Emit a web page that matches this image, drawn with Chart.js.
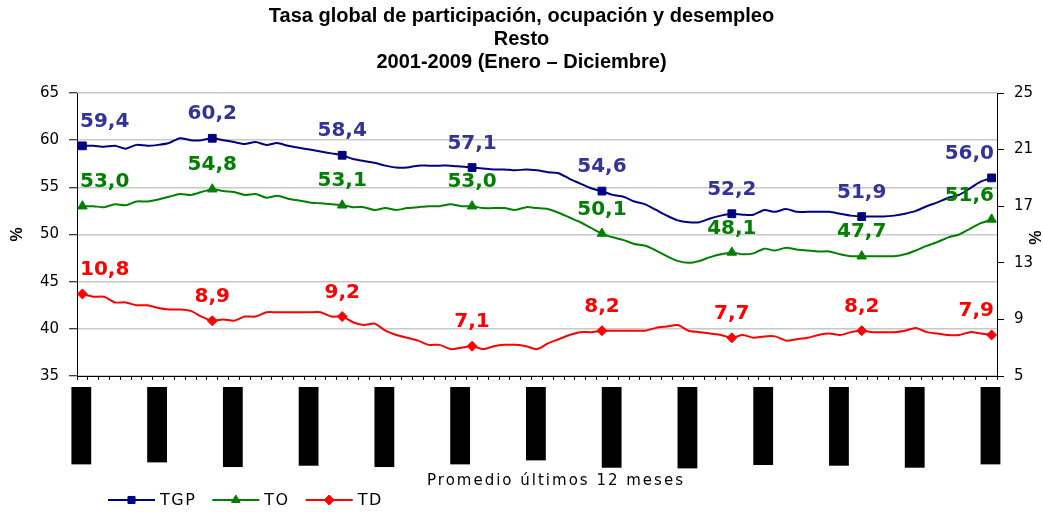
<!DOCTYPE html>
<html>
<head>
<meta charset="utf-8">
<title>Tasa global de participación, ocupación y desempleo - Resto</title>
<script src="https://cdn.jsdelivr.net/npm/chart.js@4.4.1/dist/chart.umd.min.js"></script>
<style>
  html, body { margin: 0; padding: 0; background: #fff; }
  #chart { display: block; }
</style>
</head>
<body>
<canvas id="chart" width="1043" height="512"></canvas>
<script>
// Rolling 12-month windows (Ene01-Dic01 ... Ene08-Dic08)
const monthNames = ['Ene', 'Feb', 'Mar', 'Abr', 'May', 'Jun', 'Jul', 'Ago', 'Sep', 'Oct', 'Nov', 'Dic'];
const windowLabels = [];
for (let i = 0; i < 85; i++) {
  const start = i, end = i + 11;
  const y1 = String(1 + Math.floor(start / 12)).padStart(2, '0');
  const y2 = String(1 + Math.floor(end / 12)).padStart(2, '0');
  windowLabels.push(monthNames[start % 12] + y1 + '-' + monthNames[end % 12] + y2);
}

// Tasa global de participación (left axis)
const tgpValues = [
  59.4, 59.4, 59.3, 59.4, 59.1, 59.5, 59.4, 59.5, 59.7, 60.2,
  60.0, 60.0, 60.2, 60.0, 59.8, 59.6, 59.8, 59.5, 59.7, 59.4,
  59.2, 59.0, 58.8, 58.6, 58.4, 58.0, 57.8, 57.6, 57.3, 57.1,
  57.1, 57.3, 57.3, 57.3, 57.3, 57.2, 57.1, 57.0, 56.9, 56.9,
  56.8, 56.9, 56.8, 56.6, 56.5, 55.9, 55.4, 54.9, 54.6, 54.2,
  54.0, 53.5, 53.2, 52.6, 52.0, 51.5, 51.3, 51.3, 51.7, 52.0,
  52.2, 52.1, 52.1, 52.6, 52.4, 52.7, 52.4, 52.4, 52.4, 52.4,
  52.2, 52.0, 51.9, 51.9, 51.9, 52.0, 52.2, 52.5, 53.0, 53.4,
  53.9, 54.2, 54.9, 55.6, 56.0
];

// Tasa de ocupación (left axis)
const toValues = [
  53.0, 53.0, 52.9, 53.2, 53.1, 53.5, 53.5, 53.7, 54.0, 54.3,
  54.2, 54.5, 54.8, 54.6, 54.5, 54.2, 54.3, 53.9, 54.1, 53.8,
  53.6, 53.4, 53.3, 53.2, 53.1, 52.9, 52.9, 52.6, 52.8, 52.6,
  52.8, 52.9, 53.0, 53.0, 53.2, 53.0, 53.0, 52.8, 52.8, 52.8,
  52.6, 52.9, 52.8, 52.7, 52.3, 51.8, 51.3, 50.7, 50.1, 49.7,
  49.4, 49.0, 48.8, 48.3, 47.7, 47.2, 47.0, 47.2, 47.6, 47.9,
  48.1, 47.9, 48.0, 48.5, 48.3, 48.6, 48.4, 48.3, 48.2, 48.2,
  47.9, 47.7, 47.7, 47.7, 47.7, 47.7, 47.9, 48.3, 48.8, 49.2,
  49.7, 50.0, 50.6, 51.2, 51.6
];

// Tasa de desempleo (right axis)
const tdValues = [
  10.8, 10.6, 10.6, 10.2, 10.2, 10.0, 10.0, 9.8, 9.7, 9.7,
  9.6, 9.2, 8.9, 9.0, 8.9, 9.2, 9.2, 9.5, 9.5, 9.5,
  9.5, 9.5, 9.5, 9.2, 9.2, 8.8, 8.6, 8.7, 8.2, 7.9,
  7.7, 7.5, 7.2, 7.2, 6.9, 7.0, 7.1, 6.9, 7.1, 7.2,
  7.2, 7.1, 6.9, 7.3, 7.6, 7.9, 8.1, 8.1, 8.2, 8.2,
  8.2, 8.2, 8.2, 8.4, 8.5, 8.6, 8.2, 8.1, 8.0, 7.9,
  7.7, 7.9, 7.7, 7.8, 7.8, 7.5, 7.6, 7.7, 7.9, 8.0,
  7.9, 8.1, 8.2, 8.1, 8.1, 8.1, 8.2, 8.4, 8.1, 8.0,
  7.9, 7.9, 8.1, 8.0, 7.9
];

const leftTicks = [35, 40, 45, 50, 55, 60, 65];
const rightTicks = [5, 9, 13, 17, 21, 25];
const titleLines = ['Tasa global de participación, ocupación y desempleo', 'Resto', '2001-2009 (Enero – Diciembre)'];
const xTitle = 'Promedio últimos 12 meses';

const markerStep = 12;   // a marker and a value label every December
const labelStep = 7;     // category label every 7 windows
const labelColors = ['#333399', '#008000', '#ff0000'];

const markerRadius = (r) => (ctx) => ctx.dataIndex % markerStep === 0 ? r : 0;

// Value labels, legend and axis titles
const overlayText = {
  id: 'overlayText',
  afterDatasetsDraw(chart) {
    const ctx = chart.ctx;
    const area = chart.chartArea;
    ctx.save();
    ctx.font = 'bold 20px "DejaVu Sans"';
    ctx.textAlign = 'center';
    ctx.textBaseline = 'middle';
    chart.data.datasets.forEach((ds, d) => {
      const meta = chart.getDatasetMeta(d);
      ctx.fillStyle = labelColors[d];
      meta.data.forEach((pt, i) => {
        if (i % markerStep !== 0) return;
        const txt = ds.data[i].toFixed(1).replace('.', ',');
        const half = ctx.measureText(txt).width / 2;
        const x = Math.max(area.left + 3 + half, Math.min(area.right - 3 - half, pt.x));
        ctx.fillText(txt, x, pt.y - 24);
      });
    });
    ctx.restore();
  },
  afterDraw(chart) {
    const ctx = chart.ctx;
    const area = chart.chartArea;
    ctx.save();

    // axis titles
    ctx.fillStyle = '#000';
    ctx.font = 'bold 16px "Liberation Sans"';
    ctx.textAlign = 'center';
    ctx.textBaseline = 'middle';
    ctx.save();
    ctx.translate(18, (area.top + area.bottom) / 2);
    ctx.rotate(-Math.PI / 2);
    ctx.fillText('%', 0, 0);
    ctx.restore();
    ctx.save();
    ctx.translate(1033, (area.top + area.bottom) / 2 + 3);
    ctx.rotate(Math.PI / 2);
    ctx.fillText('%', 0, 0);
    ctx.restore();

    ctx.font = '15px "DejaVu Sans"';
    if ('letterSpacing' in ctx) ctx.letterSpacing = '2px';
    ctx.fillText(xTitle, (area.left + area.right) / 2 + 19, 481);

    // legend
    ctx.font = '16px "DejaVu Sans"';
    if ('letterSpacing' in ctx) ctx.letterSpacing = '1.5px';
    ctx.textAlign = 'left';
    let x = 108;
    const y = 500;
    chart.data.datasets.forEach((ds) => {
      ctx.strokeStyle = ds.borderColor;
      ctx.fillStyle = ds.borderColor;
      ctx.lineWidth = 2;
      ctx.beginPath();
      ctx.moveTo(x, y);
      ctx.lineTo(x + 47, y);
      ctx.stroke();
      ctx.lineWidth = 1;
      Chart.helpers.drawPoint(ctx, { pointStyle: ds.pointStyle, radius: 5, rotation: 0, borderWidth: 1 }, x + 23.5, y);
      ctx.fillStyle = '#000';
      ctx.fillText(ds.label, x + 52, y + 1);
      x += 52 + ctx.measureText(ds.label).width + 16;
    });
    ctx.restore();
  }
};

const ctx = document.getElementById('chart').getContext('2d');
new Chart(ctx, {
  type: 'line',
  data: {
    labels: windowLabels,
    datasets: [
      {
        label: 'TGP',
        data: tgpValues,
        yAxisID: 'y',
        borderColor: '#000080',
        backgroundColor: '#000080',
        borderWidth: 2,
        tension: 0.25,
        pointStyle: 'rect',
        pointRadius: markerRadius(5.5),
        pointHoverRadius: markerRadius(5.5),
        pointBorderWidth: 1
      },
      {
        label: 'TO',
        data: toValues,
        yAxisID: 'y',
        borderColor: '#008000',
        backgroundColor: '#008000',
        borderWidth: 2,
        tension: 0.25,
        pointStyle: 'triangle',
        pointRadius: markerRadius(5.5),
        pointHoverRadius: markerRadius(5.5),
        pointBorderWidth: 1
      },
      {
        label: 'TD',
        data: tdValues,
        yAxisID: 'y1',
        borderColor: '#ff0000',
        backgroundColor: '#ff0000',
        borderWidth: 2,
        tension: 0.25,
        pointStyle: 'rectRot',
        pointRadius: markerRadius(5),
        pointHoverRadius: markerRadius(5),
        pointBorderWidth: 1
      }
    ]
  },
  options: {
    responsive: false,
    animation: false,
    events: [],
    layout: { padding: 0 },
    plugins: {
      legend: { display: false },
      tooltip: { enabled: false },
      title: {
        display: true,
        text: titleLines,
        color: '#000',
        font: { family: '"Liberation Sans", Arial, sans-serif', weight: 'bold', size: 20, lineHeight: 1.15 },
        padding: { top: 5, bottom: 19 }
      }
    },
    scales: {
      x: {
        offset: true,
        afterFit(scale) { scale.height = 136; },
        border: { display: true, color: '#000', width: 1 },
        grid: {
          display: true,
          offset: true,
          drawOnChartArea: false,
          drawTicks: true,
          tickLength: 4,
          tickColor: '#000'
        },
        ticks: {
          autoSkip: false,
          minRotation: 90,
          maxRotation: 90,
          padding: 11,
          labelOffset: -8,
          color: '#000',
          font: { family: '"Liberation Sans", Arial, sans-serif', size: 12, lineHeight: 1.15 },
          showLabelBackdrop: (c) => c.index % labelStep === 0,
          backdropColor: '#000',
          backdropPadding: { x: 4, y: 3 },
          callback: (value, index) => index % labelStep === 0 ? windowLabels[index] : ''
        }
      },
      y: {
        position: 'left',
        min: leftTicks[0],
        max: leftTicks[leftTicks.length - 1],
        afterFit(scale) { scale.width = 77; },
        afterBuildTicks(scale) { scale.ticks = leftTicks.map(v => ({ value: v })); },
        border: { display: true, color: '#000', width: 1 },
        grid: {
          color: '#c8c8c8',
          lineWidth: 1.5,
          drawTicks: true,
          tickLength: 8,
          tickColor: '#000',
          tickWidth: 1
        },
        ticks: {
          padding: 10,
          color: '#000',
          font: { family: '"DejaVu Sans", sans-serif', size: 15 }
        }
      },
      y1: {
        position: 'right',
        min: rightTicks[0],
        max: rightTicks[rightTicks.length - 1],
        afterFit(scale) { scale.width = 46; },
        afterBuildTicks(scale) { scale.ticks = rightTicks.map(v => ({ value: v })); },
        border: { display: true, color: '#000', width: 1 },
        grid: {
          drawOnChartArea: false,
          drawTicks: true,
          tickLength: 7,
          tickColor: '#000',
          tickWidth: 1
        },
        ticks: {
          padding: 10,
          color: '#000',
          font: { family: '"DejaVu Sans", sans-serif', size: 15 }
        }
      }
    }
  },
  plugins: [overlayText]
});
</script>
</body>
</html>
